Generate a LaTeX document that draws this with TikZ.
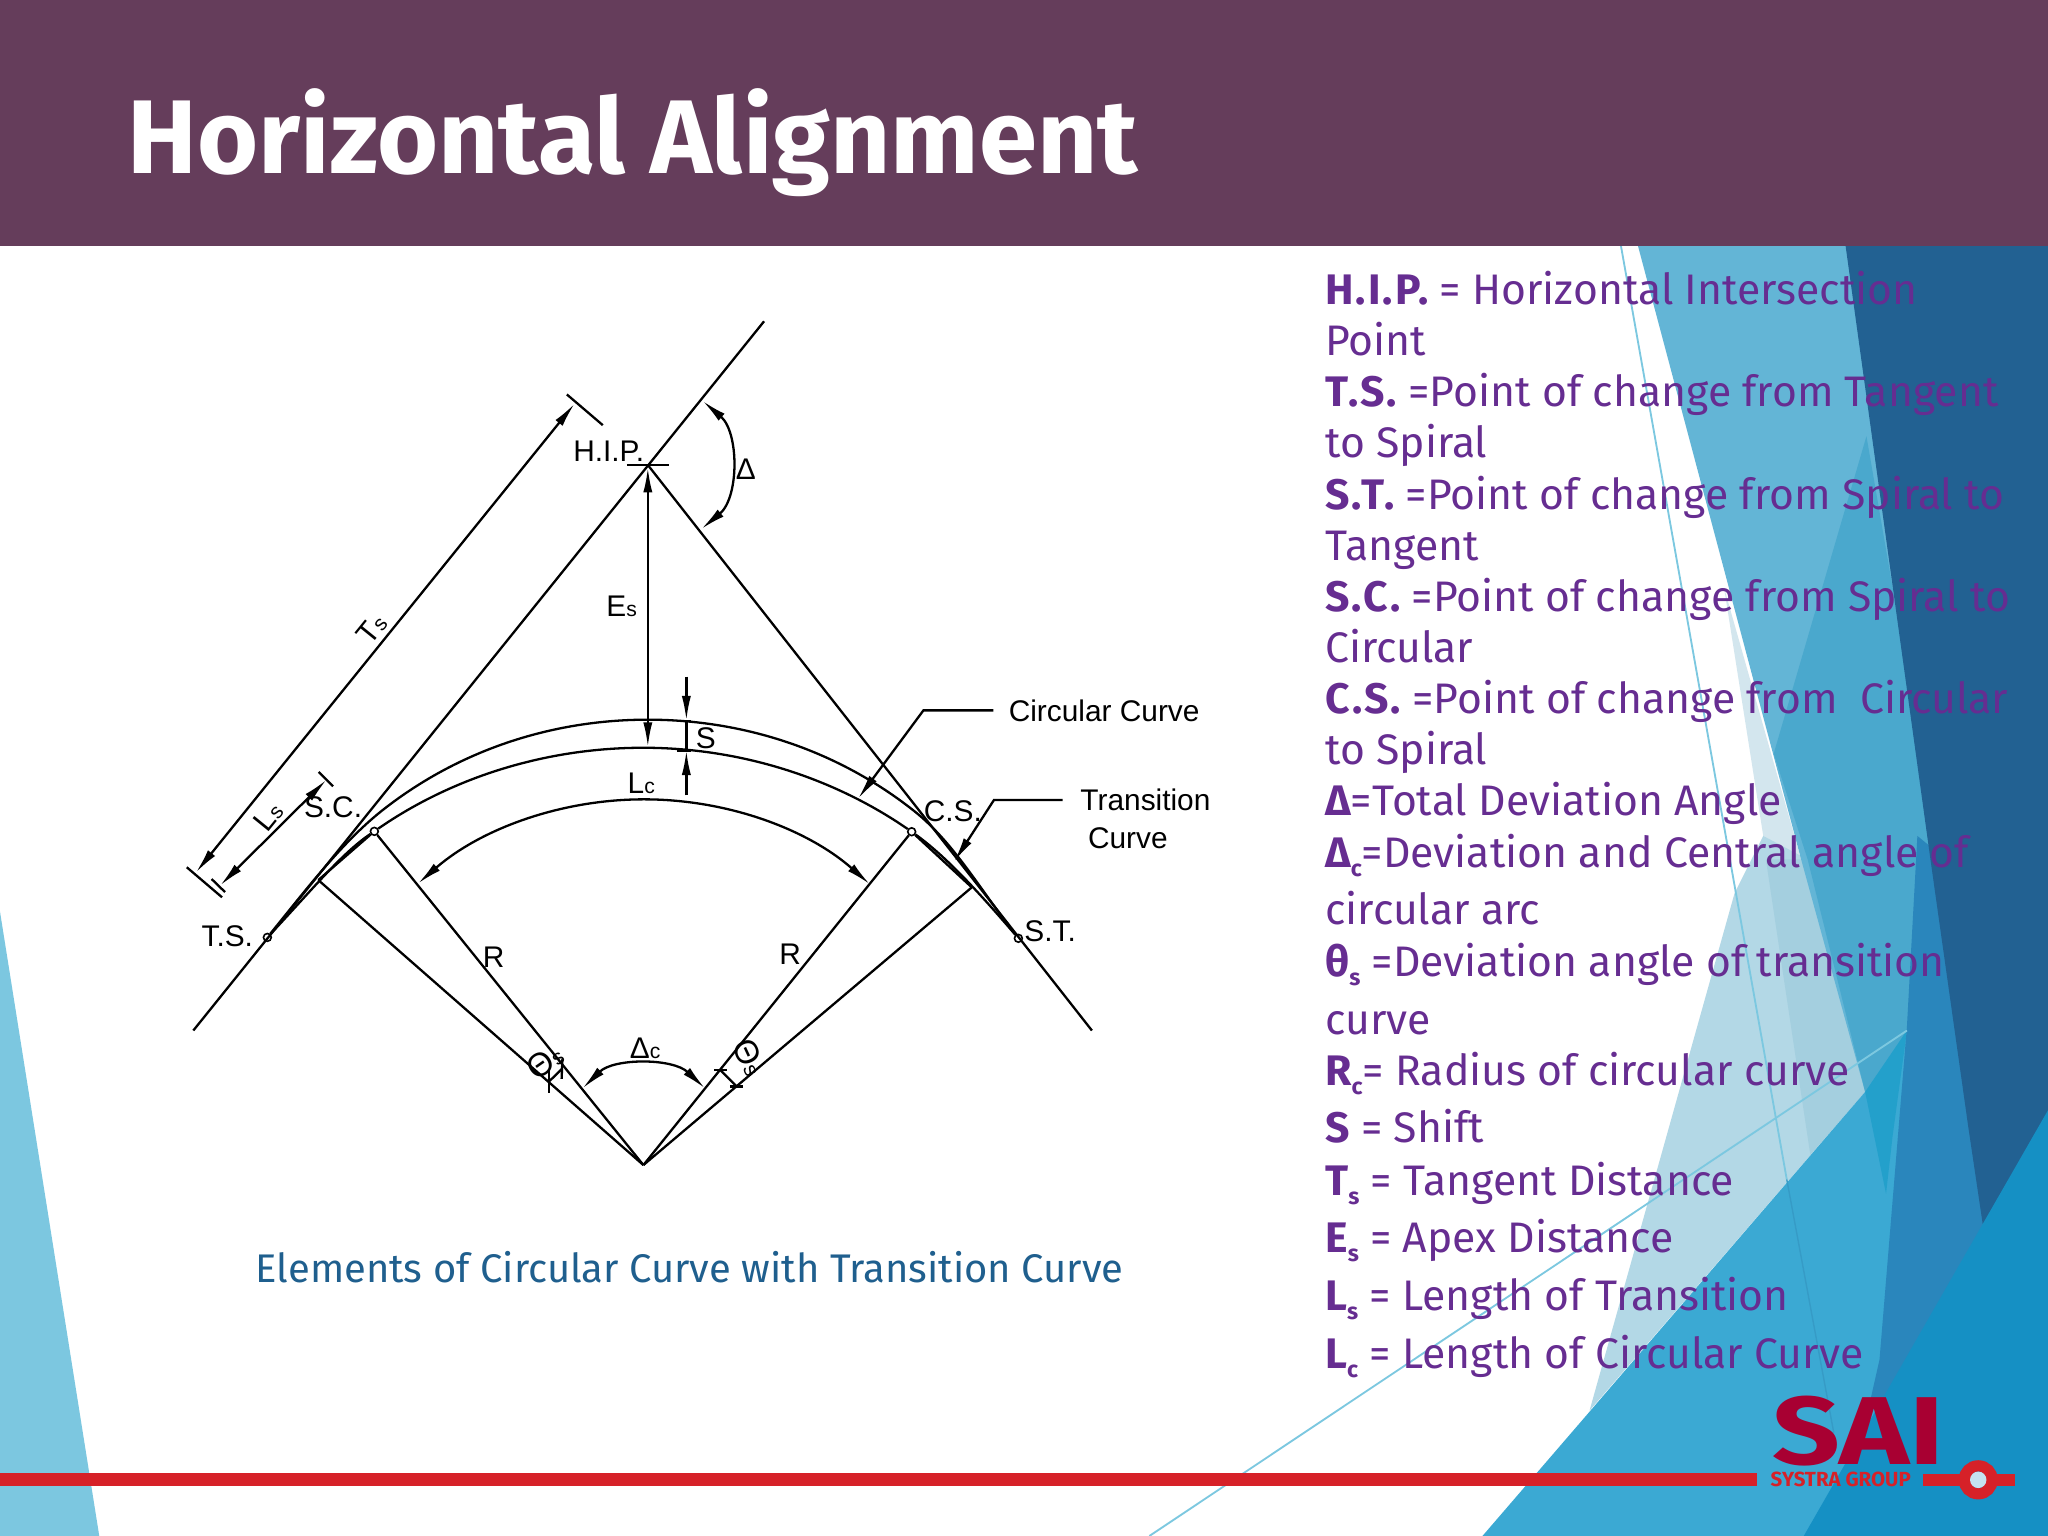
\documentclass[tikz,border=0pt]{standalone}
\usepackage{fontspec}
\usepackage{graphicx}
\setmainfont{Liberation Sans}
\newfontfamily\slidefont{Fira Sans}
\usetikzlibrary{arrows.meta}
\definecolor{bannerplum}{HTML}{653D5B}
\definecolor{listpurple}{HTML}{662D91}
\definecolor{captionblue}{HTML}{1F5F8E}
\definecolor{barred}{HTML}{D62128}
\definecolor{logored}{HTML}{A80032}
\definecolor{skyleft}{HTML}{7CC7E0}
\definecolor{paleblue}{HTML}{B3D8E6}
\definecolor{palerblue}{HTML}{D3E6EE}
\definecolor{seamblue}{HTML}{A4CFDF}
\definecolor{lightblue}{HTML}{63B5D6}
\definecolor{lowblue}{HTML}{4AA8CD}
\definecolor{midblue}{HTML}{3BA9D3}
\definecolor{stripblue}{HTML}{23A0CB}
\definecolor{steelblue}{HTML}{2A86BC}
\definecolor{darkblue}{HTML}{226192}
\definecolor{rightblue}{HTML}{1590C4}
\definecolor{thinline}{HTML}{7CC8E0}
\newcommand{\dimsub}[1]{{\fontsize{4.6}{5}\selectfont #1}}
\newcommand{\listsub}[1]{\raisebox{-0.4ex}{\fontsize{5}{6}\selectfont\bfseries #1}}
\newcommand{\listbold}[1]{{\bfseries\addfontfeature{LetterSpace=5}#1}}
\tikzset{
	curve/.style={line width=0.5pt},
	dimline/.style={line width=0.5pt, {Latex[length=1.9mm,width=0.7mm]}-{Latex[length=1.9mm,width=0.7mm]}},
	endarrow/.style={line width=0.5pt, -{Latex[length=1.9mm,width=0.7mm]}},
	label/.style={inner sep=0pt, font=\fontsize{6.5}{8}\selectfont},
	pointdot/.style={circle, draw, line width=0.35pt, inner sep=0pt, minimum size=0.6mm},
	listline/.style={anchor=base west, inner sep=0pt, text=listpurple, font=\slidefont\fontsize{9.3}{11}\selectfont},
}
\begin{document}
\begin{tikzpicture}[x=0.01cm, y=-0.01cm]
	\useasboundingbox (0,0) rectangle (1568,1176);
	\fill[white] (0,0) rectangle (1568,1176);
	% background shapes
	\fill[skyleft] (0,698) -- (76,1176) -- (0,1176) -- cycle;
	\fill[palerblue] (1320,450) -- (1379,658) -- (1350,640) -- cycle;
	\fill[paleblue] (1217,1080) -- (1328,684) -- (1350,640) -- (1384,658) -- (1428,836) -- cycle;
	\fill[seamblue] (1352,658) -- (1384,658) -- (1428,836) -- (1386,884) -- cycle;
	\fill[lightblue] (1254,188) -- (1420,188) -- (1485,658) -- (1470,789) -- (1428,836) -- (1379,658) -- cycle;
	\fill[lowblue] (1429,334) -- (1358,577) -- (1384,658) -- (1428,836) -- (1470,789) -- (1485,658) -- cycle;
	\fill[midblue] (1135,1176) -- (1428,836) -- (1460,789) -- (1470,900) -- (1470,1176) -- cycle;
	\fill[stripblue] (1428,836) -- (1460,789) -- (1449,870) -- (1444,914) -- cycle;
	\fill[steelblue] (1468,640) -- (1490,658) -- (1530,863) -- (1530,960) -- (1470,1100) -- (1432,1072) -- (1439,1041) -- (1460,786) -- cycle;
	\fill[darkblue] (1413,188) -- (1568,188) -- (1568,880) -- (1530,950) -- (1518,937) -- (1507,863) -- (1478,658) -- cycle;
	\fill[rightblue] (1568,850) -- (1381,1176) -- (1568,1176) -- cycle;
	\draw[thinline, line width=0.4pt] (1241,188) -- (1368,903);
	\draw[midblue!80!darkblue, line width=0.3pt] (1368,903) -- (1404,1097);
	\draw[thinline, line width=0.4pt] (880,1176) -- (1460,789);
	% banner and red bar
	\fill[bannerplum] (0,0) rectangle (1568,188);
	\node[anchor=base west, inner sep=0pt, text=white, font=\slidefont\fontsize{22.8}{27}\selectfont\bfseries] (title) at (97,133) {Horizontal Alignment};
	\fill[barred] (0,1128) rectangle (1345,1138);
	% logo
	\node[anchor=base west, inner sep=0pt, text=logored, font=\slidefont\fontsize{21}{21}\selectfont\bfseries] (sai) at (1356,1121) {\scalebox{1.23}[1]{SAI}};
	\node[anchor=base west, inner sep=0pt, text=barred, font=\slidefont\fontsize{4.45}{5}\selectfont\bfseries] (systra) at (1355,1138) {SYSTRA GROUP};
	\fill[barred] (1472,1128.5) rectangle (1543,1137.5);
	\draw[barred, line width=0.86mm] (1514.6,1133) circle (10.7);
	\fill[white!75!rightblue] (1514.6,1133) circle (6.3);
	% points
	\coordinate (hip) at (496,356);
	\coordinate (centre) at (492.6,892);
	\node[pointdot] (ts) at (204.7,717.7) {};
	\node[pointdot] (sc) at (286.6,636.5) {};
	\node[pointdot] (cs) at (698,636.8) {};
	\node[pointdot] (st) at (779.7,718.4) {};
	\coordinate (scend) at (243.7,673.8);
	\coordinate (csend) at (744,679.4);
	\coordinate (outertop) at (496,551);
	\coordinate (innertop) at (492.5,572.5);
	% tangents
	\coordinate (leftlow) at (148,789);
	\coordinate (lefthigh) at (585,246);
	\coordinate (rightlow) at (836,789);
	\draw[curve] (leftlow) -- (lefthigh);
	\draw[curve] (hip) -- (rightlow);
	\draw[curve] (480,356) -- (512,356);
	% curves
	\draw[curve] (ts) .. controls (236,679) and (262,645) .. (292,621) .. controls (350,575) and (421.5,551) .. (outertop)
		.. controls (570.5,551) and (642,575) .. (700,621) .. controls (730,645) and (749,679) .. (st);
	\draw[curve] (sc) .. controls (347,594.7) and (418.7,572.5) .. (innertop) .. controls (565.3,572.5) and (637,594.7) .. (cs);
	\draw[curve] (sc) .. controls (262,653) and (240,680) .. (ts);
	\draw[curve] (cs) .. controls (722,654) and (745,678) .. (st);
	\draw[curve] (sc) -- (scend);
	\draw[curve] (cs) -- (csend);
	% radial lines
	\draw[curve] (centre) -- (sc);
	\draw[curve] (centre) -- (scend);
	\draw[curve] (centre) -- (cs);
	\draw[curve] (centre) -- (csend);
	% dimensions
	\coordinate (tsa) at (150,668);
	\coordinate (tsb) at (440,309);
	\draw[dimline] (tsa) -- (tsb);
	\draw[curve] (434,302) -- (461.5,325.5);
	\draw[curve] (143,664) -- (170,687);
	\coordinate (lsa) at (168.5,678);
	\coordinate (lsb) at (250,597);
	\draw[dimline] (lsa) -- (lsb);
	\draw[curve] (244,591) -- (255,602);
	\draw[curve] (162,673) -- (172.3,683);
	\coordinate (esa) at (496,358);
	\coordinate (esb) at (496,572);
	\draw[dimline] (esa) -- (esb);
	% shift
	\draw[endarrow] (525.5,518) -- (525.5,551.8);
	\draw[endarrow] (525.5,609) -- (525.5,574.4);
	\draw[curve] (525.5,551.8) -- (525.5,574.4);
	\draw[curve] (518,552) -- (529,552);
	\draw[curve] (518,574.5) -- (529,574.5);
	% arcs
	\draw[dimline] (320,676.5) .. controls (368,634.7) and (429.3,612) .. (493,612) .. controls (556.7,612) and (618,634.7) .. (666,677);
	\draw[dimline] (538,307) .. controls (566,331) and (566,381) .. (537,405);
	\draw[dimline] (446,833.3) .. controls (470,810) and (515,810) .. (539.8,833.3);
	% theta ticks
	\draw[curve] (420.4,819) -- (420.4,837);
	\draw[curve] (430.6,811) -- (430,826);
	\draw[curve] (420.4,828) -- (430.6,818);
	\draw[curve] (546.7,819) -- (556.4,819);
	\draw[curve] (559,831.8) -- (569,831.8);
	\draw[curve] (551.3,819) -- (564,831.8);
	% leaders
	\draw[endarrow] (760.6,543.9) -- (707,543.9) -- (657,611.4);
	\draw[endarrow] (813.6,612.5) -- (761,612.5) -- (730.5,659.7);
	% labels
	\node[label] (hiplabel) at (466,345.5) {H.I.P.};
	\node[label] (deltalabel) at (571,359) {Δ};
	\node[label, rotate=51] (tslabel) at (284.6,481.7) {T\dimsub{s}};
	\node[label, rotate=51] (lslabel) at (205.5,625) {L\dimsub{s}};
	\node[label] (eslabel) at (476,464) {E\dimsub{s}};
	\node[label] (slabel) at (540.4,565) {S};
	\node[label] (lclabel) at (491,600) {L\dimsub{c}};
	\node[label] (sclabel) at (255,618) {S.C.};
	\node[label] (cslabel) at (729.5,620.8) {C.S.};
	\node[label] (tslab) at (174,717) {T.S.};
	\node[label] (stlabel) at (804,713) {S.T.};
	\node[label] (rleft) at (378,733) {R};
	\node[label] (rright) at (605,730.8) {R};
	\node[label] (dclabel) at (494,803) {Δ\dimsub{c}};
	\node[label, rotate=35, font=\fontsize{7.2}{8}\selectfont] (thleft) at (417,813) {Θ\dimsub{s}};
	\node[label, rotate=-65, font=\fontsize{7.2}{8}\selectfont] (thright) at (574,809) {Θ\dimsub{s}};
	\node[label] (circlabel) at (845.4,544) {Circular Curve};
	\node[label] (translabel) at (877,612.6) {Transition};
	\node[label] (curvelabel) at (863.5,642) {Curve};
	% caption
	\node[anchor=base west, inner sep=0pt, text=captionblue, font=\slidefont\fontsize{8.7}{11}\selectfont] (caption) at (195,982) {Elements of Circular Curve with Transition Curve};
	% definitions
	\node[listline] (l1) at (1014,233) {\listbold{H.I.P.} = Horizontal Intersection};
	\node[listline] (l2) at (1014,272) {Point};
	\node[listline] (l3) at (1014,311) {\listbold{T.S.} =Point of change from Tangent};
	\node[listline] (l4) at (1014,350) {to Spiral};
	\node[listline] (l5) at (1014,390) {\listbold{S.T.} =Point of change from Spiral to};
	\node[listline] (l6) at (1014,429) {Tangent};
	\node[listline] (l7) at (1014,468) {\listbold{S.C.} =Point of change from Spiral to};
	\node[listline] (l8) at (1014,507) {Circular};
	\node[listline] (l9) at (1014,546) {\listbold{C.S.} =Point of change from\ \ Circular};
	\node[listline] (l10) at (1014,585) {to Spiral};
	\node[listline] (l11) at (1014,624) {\listbold{Δ}=Total Deviation Angle};
	\node[listline] (l12) at (1014,664) {\listbold{Δ}\listsub{c}=Deviation and Central angle of};
	\node[listline] (l13) at (1014,708) {circular arc};
	\node[listline] (l14) at (1014,748) {\listbold{θ}\listsub{s} =Deviation angle of transition};
	\node[listline] (l15) at (1014,792) {curve};
	\node[listline] (l16) at (1014,831) {\listbold{R}\listsub{c}= Radius of circular curve};
	\node[listline] (l17) at (1014,875) {\listbold{S} = Shift};
	\node[listline] (l18) at (1014,915) {\listbold{T}\listsub{s} = Tangent Distance};
	\node[listline] (l19) at (1014,959) {\listbold{E}\listsub{s} = Apex Distance};
	\node[listline] (l20) at (1014,1003) {\listbold{L}\listsub{s} = Length of Transition};
	\node[listline] (l21) at (1014,1048) {\listbold{L}\listsub{c} = Length of Circular Curve};
\end{tikzpicture}
\end{document}
